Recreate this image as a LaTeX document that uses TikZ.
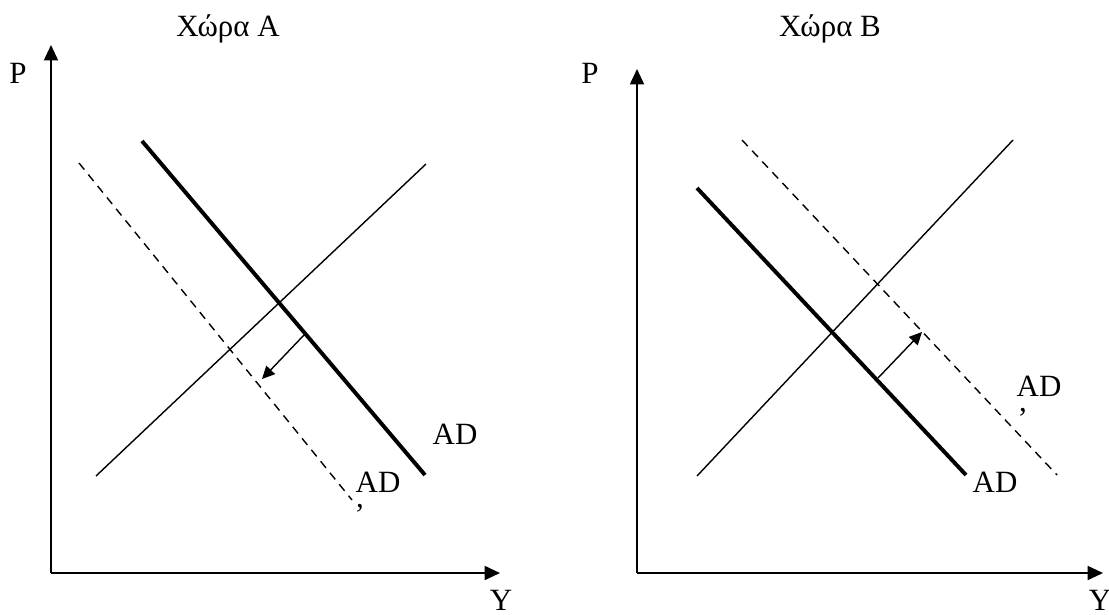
\documentclass[tikz,border=0pt]{standalone}
\usepackage{fontspec}
\setmainfont{Liberation Serif}
\usetikzlibrary{arrows.meta}
\tikzset{axis/.style={-{Triangle[length=11pt,width=10pt]},line width=1.4pt},
 oldad/.style={line width=2.8pt},
 supply/.style={line width=1pt},
 newad/.style={line width=1pt,dash pattern=on 6pt off 4.5pt},
 shiftarr/.style={-{Triangle[length=9pt,width=8.5pt]},line width=1pt},
 lbl/.style={font=\fontsize{22}{26}\selectfont,inner sep=0pt,anchor=base}}

\begin{document}
\begin{tikzpicture}[x=0.025cm,y=-0.025cm]
\useasboundingbox (0,0) rectangle (1109,614);
% Χώρα Α
\node[lbl] (titA) at (228,36) {Χώρα Α};
\node[lbl] (pA) at (18,83) {P};
\node[lbl] (yA) at (501,610) {Y};
\coordinate (oA) at (51,573);
\coordinate (ptopA) at (51,45);
\coordinate (yendA) at (500,573);
\draw[axis] (oA)--(ptopA);
\draw[axis] (oA)--(yendA);
\coordinate (adA1) at (142,141); \coordinate (adA2) at (425,475);
\coordinate (asA1) at (96,476);  \coordinate (asA2) at (426,164);
\coordinate (ndA1) at (79,163);  \coordinate (ndA2) at (352,500);
\draw[oldad] (adA1)--(adA2);
\draw[supply] (asA1)--(asA2);
\draw[newad] (ndA1)--(ndA2);
\coordinate (fromA) at (304,335); \coordinate (toA) at (262,379);
\draw[shiftarr] (fromA)--(toA);
\node[lbl] (adA) at (455,444) {AD};
\node[lbl] (adpA) at (378,492) {AD};
\node[lbl] (cmA) at (360,507) {,};
% Χώρα Β
\node[lbl] (titB) at (830,36) {Χώρα Β};
\node[lbl] (pB) at (590,83) {P};
\node[lbl] (yB) at (1100,610) {Y};
\coordinate (oB) at (637,573);
\coordinate (ptopB) at (637,69);
\coordinate (yendB) at (1103,573);
\draw[axis] (oB)--(ptopB);
\draw[axis] (oB)--(yendB);
\coordinate (adB1) at (697,188); \coordinate (adB2) at (966,475);
\coordinate (asB1) at (697,476); \coordinate (asB2) at (1013,140);
\coordinate (ndB1) at (742,140); \coordinate (ndB2) at (1057,475);
\draw[oldad] (adB1)--(adB2);
\draw[supply] (asB1)--(asB2);
\draw[newad] (ndB1)--(ndB2);
\coordinate (fromB) at (878,378); \coordinate (toB) at (922,332);
\draw[shiftarr] (fromB)--(toB);
\node[lbl] (adB) at (995,492) {AD};
\node[lbl] (adpB) at (1039,396) {AD};
\node[lbl] (cmB) at (1023,411) {,};
\end{tikzpicture}
\end{document}
